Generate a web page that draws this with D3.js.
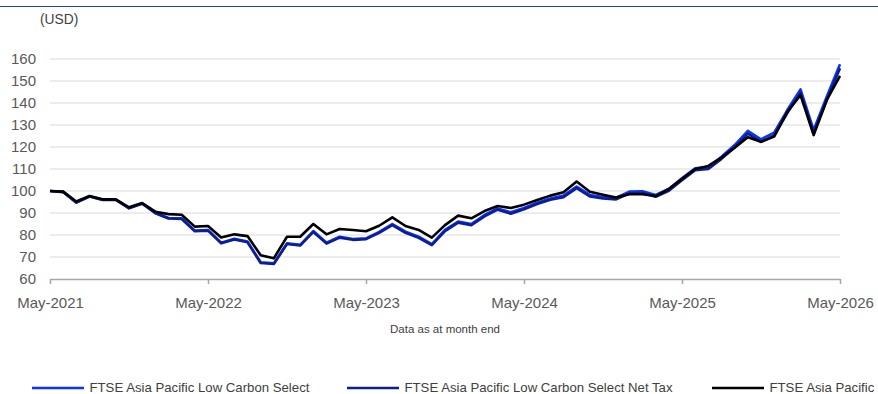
<!DOCTYPE html>
<html>
<head>
<meta charset="utf-8">
<script src="https://cdn.jsdelivr.net/npm/d3@7"></script>
<style>
  html, body { margin: 0; padding: 0; background: #fff; }
  svg { display: block; font-family: Arial, "Liberation Sans", sans-serif; }
</style>
</head>
<body>
<svg id="chart" width="878" height="394"></svg>
<script>
const xTickLabels = ["May-2021", "May-2022", "May-2023", "May-2024", "May-2025", "May-2026"];
const yTicks = [60, 70, 80, 90, 100, 110, 120, 130, 140, 150, 160];
const seriesNames = ["FTSE Asia Pacific Low Carbon Select", "FTSE Asia Pacific Low Carbon Select Net Tax", "FTSE Asia Pacific"];

const lowCarbonSelect = [100.0, 99.6, 94.8, 97.6, 96.0, 96.1, 92.3, 94.4, 90.1, 87.7, 87.6, 82.0, 82.3, 76.5, 78.3, 77.0, 67.6, 67.1, 76.2, 75.5,
  81.8, 76.5, 79.2, 78.2, 78.5, 81.4, 85.0, 81.5, 79.2, 75.9, 82.3, 86.1, 85.0, 89.1, 92.1, 90.3, 92.3, 94.7, 96.6, 97.9,
  102.0, 98.2, 97.3, 97.0, 99.7, 99.9, 98.2, 100.9, 105.8, 110.3, 110.9, 115.6, 120.9, 127.3, 123.5, 126.5, 136.8, 146.2, 127.7, 143.0, 157.6];
const lowCarbonSelectNetTax = [100.0, 99.5, 94.7, 97.5, 95.9, 95.9, 92.1, 94.2, 89.9, 87.5, 87.3, 81.7, 82.0, 76.2, 78.0, 76.7, 67.3, 66.8, 75.9, 75.2,
  81.4, 76.1, 78.8, 77.8, 78.1, 81.0, 84.5, 81.0, 78.7, 75.4, 81.8, 85.6, 84.5, 88.5, 91.5, 89.7, 91.7, 94.1, 96.0, 97.2,
  101.3, 97.5, 96.6, 96.2, 98.9, 99.1, 97.4, 100.1, 104.9, 109.4, 110.0, 114.6, 119.8, 126.1, 122.3, 125.3, 135.4, 144.7, 126.4, 141.5, 155.8];
const asiaPacific = [100.0, 99.7, 95.2, 97.7, 96.2, 96.2, 92.6, 94.5, 90.6, 89.5, 89.2, 83.8, 84.1, 78.9, 80.3, 79.5, 70.8, 69.4, 79.2, 79.2,
  85.0, 80.3, 82.7, 82.3, 81.7, 84.2, 88.0, 84.1, 82.3, 78.8, 84.5, 88.8, 87.6, 90.9, 93.2, 92.3, 93.8, 95.9, 97.9, 99.4,
  104.3, 99.7, 98.3, 97.0, 98.5, 98.5, 97.7, 100.9, 105.5, 110.0, 111.4, 115.2, 119.7, 124.4, 122.4, 124.7, 136.0, 143.6, 125.4, 141.4, 152.3];

const colors = ["#0a33ff", "#0d1f90", "#000000"];

const svg = d3.select("#chart");
const W = 878, H = 394;
const plot = { left: 50, right: 840, top: 59, bottom: 279 };

// top rule
svg.append("line").attr("x1", 0).attr("x2", W).attr("y1", 6.5).attr("y2", 6.5)
  .attr("stroke", "#2a3f9c").attr("stroke-width", 1);

const nPts = asiaPacific.length;
const x = d3.scaleLinear().domain([0, nPts - 1]).range([plot.left, plot.right]);
const y = d3.scaleLinear().domain([60, 160]).range([plot.bottom, plot.top]);

// gridlines
svg.append("g").selectAll("line").data(yTicks.filter(d => d > 60)).join("line")
  .attr("x1", plot.left).attr("x2", plot.right)
  .attr("y1", d => y(d)).attr("y2", d => y(d))
  .attr("stroke", "#d9d9d9").attr("stroke-width", 1);

// y labels
const yAxis = d3.axisLeft(y).tickValues(yTicks).tickSize(0).tickPadding(0);
const gy = svg.append("g").attr("transform", `translate(36,0)`).call(yAxis);
gy.select(".domain").remove();
gy.selectAll("text").attr("font-size", 15).attr("fill", "#595959").attr("font-family", "Arial, 'Liberation Sans', sans-serif");

// x axis
const xAxis = d3.axisBottom(x).tickValues(xTickLabels.map((d, i) => i * 12))
  .tickFormat((d, i) => xTickLabels[i]).tickSize(5).tickSizeOuter(0).tickPadding(13);
const gx = svg.append("g").attr("transform", `translate(0,${plot.bottom})`).call(xAxis);
gx.select(".domain").attr("stroke", "#a6a6a6").attr("stroke-width", 1.5);
gx.selectAll(".tick line").attr("stroke", "#a6a6a6").attr("stroke-width", 1.5);
gx.selectAll("text").attr("font-size", 15).attr("fill", "#595959").attr("font-family", "Arial, 'Liberation Sans', sans-serif");

// unit label
svg.append("text").attr("x", 40).attr("y", 24).text("(USD)")
  .attr("font-size", 13.8).attr("fill", "#404040");

// footnote
svg.append("text").attr("x", 445).attr("y", 333).attr("text-anchor", "middle")
  .text("Data as at month end").attr("font-size", 11.5).attr("fill", "#404040");

// lines
const line = d3.line().x((d, i) => x(i)).y(d => y(d));
const allSeries = [lowCarbonSelect, lowCarbonSelectNetTax, asiaPacific];
svg.append("g").selectAll("path").data(allSeries).join("path")
  .attr("d", d => line(d))
  .attr("fill", "none")
  .attr("stroke", (d, i) => colors[i])
  .attr("stroke-width", 2.6)
  .attr("stroke-linejoin", "round");

// legend
const legendX = [32, 347, 712];
const lg = svg.append("g").selectAll("g").data(seriesNames).join("g")
  .attr("transform", (d, i) => `translate(${legendX[i]},388)`);
lg.append("line").attr("x1", 0).attr("x2", 52).attr("y1", 0).attr("y2", 0)
  .attr("stroke", (d, i) => colors[i]).attr("stroke-width", 2.6);
lg.append("text").attr("x", 57.5).attr("y", 4).text(d => d)
  .attr("font-size", 13.2).attr("fill", "#404040");
</script>
</body>
</html>
